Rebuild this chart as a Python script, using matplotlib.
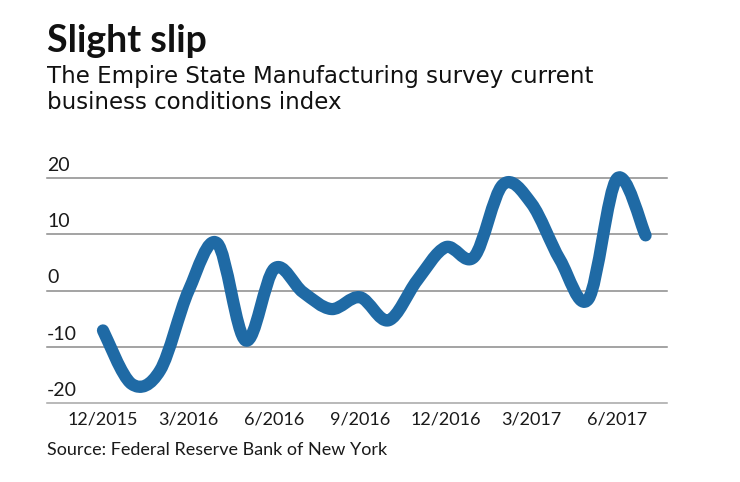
import matplotlib
matplotlib.use("Agg")
import matplotlib.pyplot as plt
from matplotlib.path import Path
from matplotlib.patches import PathPatch

# monthly index values
months = ["12/2015", "1/2016", "2/2016", "3/2016", "4/2016", "5/2016", "6/2016",
          "7/2016", "8/2016", "9/2016", "10/2016", "11/2016", "12/2016",
          "1/2017", "2/2017", "3/2017", "4/2017", "5/2017", "6/2017", "7/2017"]
index_values = [-7.1, -16.6, -14.2, 0.0, 8.4, -8.9, 3.9, -0.3, -3.3, -1.2,
                -5.3, 1.8, 7.7, 6.0, 18.8, 15.5, 5.5, -1.5, 19.9, 9.8]
y_ticks = [20, 10, 0, -10, -20]
x_tick_every = 3

blue = "#1f6aa5"

fig = plt.figure(figsize=(7.4, 4.82), dpi=100)
ax = fig.add_axes([47 / 740, (482 - 403) / 482, 620 / 740, (403 - 166.75) / 482])

x = list(range(len(index_values)))

# smooth line: catmull-rom segments as cubic bezier
pts = list(zip(x, index_values))
verts = [pts[0]]
codes = [Path.MOVETO]
for i in range(len(pts) - 1):
    p0 = pts[i - 1] if i > 0 else pts[i]
    p1 = pts[i]
    p2 = pts[i + 1]
    p3 = pts[i + 2] if i + 2 < len(pts) else pts[i + 1]
    c1 = (p1[0] + (p2[0] - p0[0]) / 6, p1[1] + (p2[1] - p0[1]) / 6)
    c2 = (p2[0] - (p3[0] - p1[0]) / 6, p2[1] - (p3[1] - p1[1]) / 6)
    verts += [c1, c2, p2]
    codes += [Path.CURVE4] * 3
ax.add_patch(PathPatch(Path(verts, codes), facecolor="none", edgecolor=blue,
                       lw=8.8, capstyle="round", joinstyle="round", clip_on=False, zorder=3))

ax.set_xlim(-1.96, 19.75)
ax.set_ylim(-20, 22)

for v in y_ticks:
    ax.axhline(v, color="#8a8a8a" if v != -20 else "#a5a5a5", lw=1.1, zorder=1, clip_on=False)
    ax.annotate(str(v), xy=(0, v), xycoords=("axes fraction", "data"),
                xytext=(0, 3), textcoords="offset points", ha="left", va="bottom",
                fontsize=14, family="Lato", color="#1a1a1a")

ax.set_xticks(x[::x_tick_every])
ax.set_xticklabels(months[::x_tick_every], fontsize=13, family="Lato", color="#1a1a1a")
ax.tick_params(axis="x", length=0, pad=6)
ax.set_yticks([])
for s in ax.spines.values():
    s.set_visible(False)

fig.text(47 / 740, 1 - 52 / 482, "Slight slip", fontsize=27, fontweight="bold",
         family="Lato", color="#111111", va="baseline")
fig.text(47 / 740, 1 - 83 / 482, "The Empire State Manufacturing survey current",
         fontsize=16.5, family="DejaVu Sans", color="#111111", va="baseline")
fig.text(47 / 740, 1 - 109 / 482, "business conditions index",
         fontsize=16.5, family="DejaVu Sans", color="#111111", va="baseline")
fig.text(47 / 740, 1 - 455 / 482, "Source: Federal Reserve Bank of New York",
         fontsize=13, family="Lato", color="#1a1a1a", va="baseline")

fig.savefig("out.png", dpi=100)
